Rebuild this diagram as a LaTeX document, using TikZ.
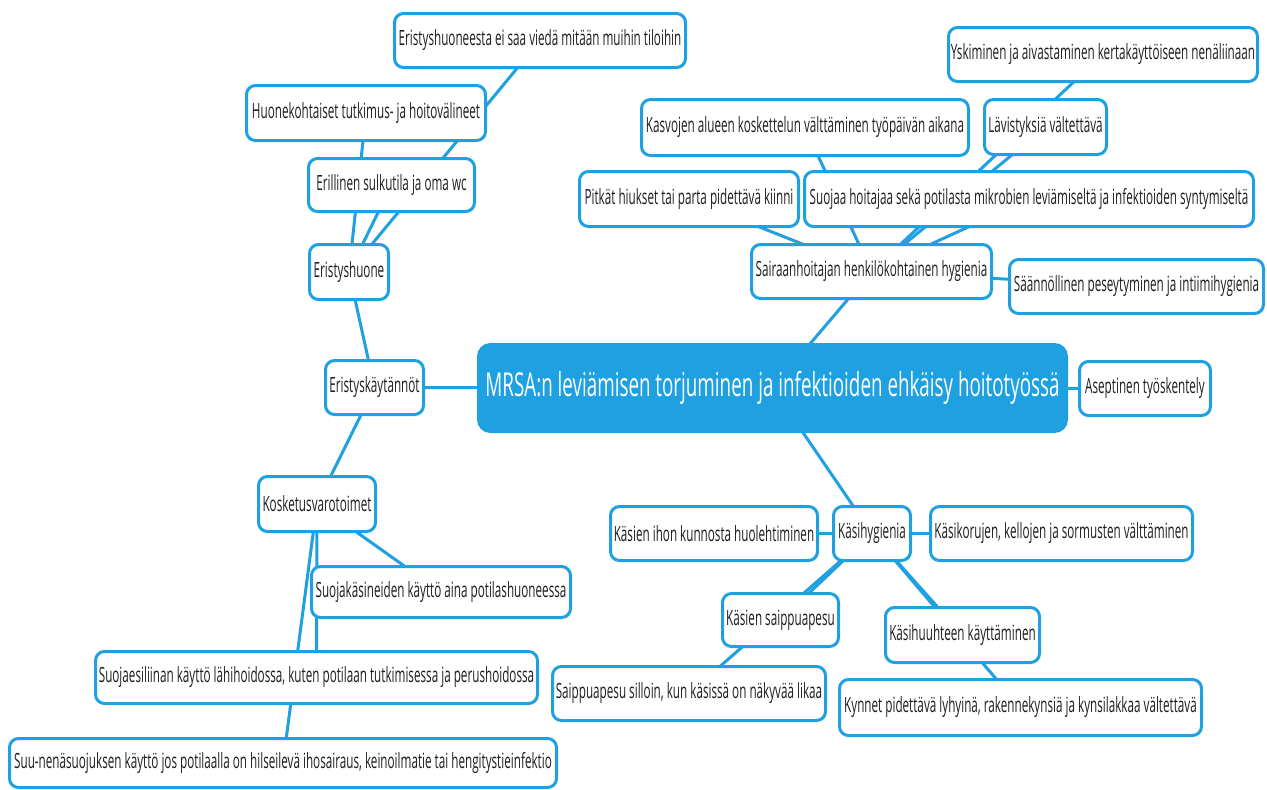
\documentclass[tikz,border=0pt]{standalone}
\usepackage{fontspec}
\setmainfont[FakeStretch=0.557]{Open Sans}
\newfontfamily\titlefnt[FakeStretch=0.57]{Open Sans}
\usetikzlibrary{backgrounds}
\definecolor{mmblue}{RGB}{30,160,225}
\definecolor{mmtext}{RGB}{30,30,30}
\tikzset{
  nbox/.style={draw=mmblue, line width=3pt, rounded corners=9pt, fill=white, inner sep=0pt,
    text=mmtext, font=\fontsize{21}{23}\selectfont, align=center},
  mainbox/.style={nbox, fill=mmblue, text=white, font=\titlefnt\fontsize{33}{36}\selectfont, rounded corners=12pt},
  conn/.style={draw=mmblue, line width=3pt},
}
\newcommand\mbx[7][nbox]{\node[#1, minimum width={(#5-#3-3)*1pt}, minimum height={(#6-#4-3)*1pt}] (#2) at ({(#3+#5)/2},{(#4+#6)/2}) {#7};}
\begin{document}
\begin{tikzpicture}[x=1pt,y=-1pt]
\useasboundingbox (0,0) rectangle (1267,790);
\mbx[mainbox]{main}{477}{343}{1068}{433}{MRSA:n leviämisen torjuminen ja infektioiden ehkäisy hoitotyössä}
\mbx{eristyskay}{324}{359}{425}{416}{Eristyskäytännöt}
\mbx{eristyshuone}{308}{243}{390}{301}{Eristyshuone}
\mbx{erillinen}{307}{157}{476}{213}{Erillinen sulkutila ja oma wc}
\mbx{huonekoht}{245}{84}{487}{142}{Huonekohtaiset tutkimus- ja hoitovälineet}
\mbx{eristyshuoneesta}{393}{12}{687}{69}{Eristyshuoneesta ei saa viedä mitään muihin tiloihin}
\mbx{kosketus}{257}{475}{377}{533}{Kosketusvarotoimet}
\mbx{suojakas}{310}{565}{572}{619}{Suojakäsineiden käyttö aina potilashuoneessa}
\mbx{suojaesil}{94}{650}{539}{705}{Suojaesiliinan käyttö lähihoidossa, kuten potilaan tutkimisessa ja perushoidossa}
\mbx{suunena}{8}{737}{558}{789}{Suu-nenäsuojuksen käyttö jos potilaalla on hilseilevä ihosairaus, keinoilmatie tai hengitystieinfektio}
\mbx{sairaan}{750}{243}{993}{300}{Sairaanhoitajan henkilökohtainen hygienia}
\mbx{pitkat}{578}{170}{800}{228}{Pitkät hiukset tai parta pidettävä kiinni}
\mbx{suojaa}{803}{170}{1255}{228}{Suojaa hoitajaa sekä potilasta mikrobien leviämiseltä ja infektioiden syntymiseltä}
\mbx{kasvojen}{640}{98}{970}{157}{Kasvojen alueen koskettelun välttäminen työpäivän aikana}
\mbx{lavist}{983}{98}{1108}{156}{Lävistyksiä vältettävä}
\mbx{yskim}{947}{26}{1259}{83}{Yskiminen ja aivastaminen kertakäyttöiseen nenäliinaan}
\mbx{saannol}{1008}{258}{1265}{315}{Säännöllinen peseytyminen ja intiimihygienia}
\mbx{aseptinen}{1078}{360}{1212}{417}{Aseptinen työskentely}
\mbx{kasihyg}{832}{505}{912}{562}{Käsihygienia}
\mbx{kasienihon}{609}{505}{819}{562}{Käsien ihon kunnosta huolehtiminen}
\mbx{kasikor}{929}{505}{1194}{562}{Käsikorujen, kellojen ja sormusten välttäminen}
\mbx{kasiensaip}{721}{592}{840}{648}{Käsien saippuapesu}
\mbx{saippsilloin}{551}{665}{827}{722}{Saippuapesu silloin, kun käsissä on näkyvää likaa}
\mbx{kasihuuht}{884}{606}{1041}{664}{Käsihuuhteen käyttäminen}
\mbx{kynnet}{838}{678}{1203}{737}{Kynnet pidettävä lyhyinä, rakennekynsiä ja kynsilakkaa vältettävä}
\begin{scope}[on background layer]
\fill[white] (0,0) rectangle (1267,790);
\draw[conn] (main.center) -- (eristyskay.center);
\draw[conn] (main.center) -- (sairaan.center);
\draw[conn] (main.center) -- (aseptinen.center);
\draw[conn] (main.center) -- (kasihyg.center);
\draw[conn] (eristyskay.center) -- (eristyshuone.center);
\draw[conn] (eristyskay.center) -- (kosketus.center);
\draw[conn] (eristyshuone.center) -- (erillinen.center);
\draw[conn] (eristyshuone.center) -- (huonekoht.center);
\draw[conn] (eristyshuone.center) -- (eristyshuoneesta.center);
\draw[conn] (kosketus.center) -- (suojakas.center);
\draw[conn] (kosketus.center) -- (suojaesil.center);
\draw[conn] (kosketus.center) -- (suunena.center);
\draw[conn] (sairaan.center) -- (pitkat.center);
\draw[conn] (sairaan.center) -- (suojaa.center);
\draw[conn] (sairaan.center) -- (kasvojen.center);
\draw[conn] (sairaan.center) -- (lavist.center);
\draw[conn] (sairaan.center) -- (yskim.center);
\draw[conn] (sairaan.center) -- (saannol.center);
\draw[conn] (kasihyg.center) -- (kasienihon.center);
\draw[conn] (kasihyg.center) -- (kasikor.center);
\draw[conn] (kasihyg.center) -- (kasiensaip.center);
\draw[conn] (kasihyg.center) -- (saippsilloin.center);
\draw[conn] (kasihyg.center) -- (kasihuuht.center);
\draw[conn] (kasihyg.center) -- (kynnet.center);
\end{scope}
\end{tikzpicture}
\end{document}
